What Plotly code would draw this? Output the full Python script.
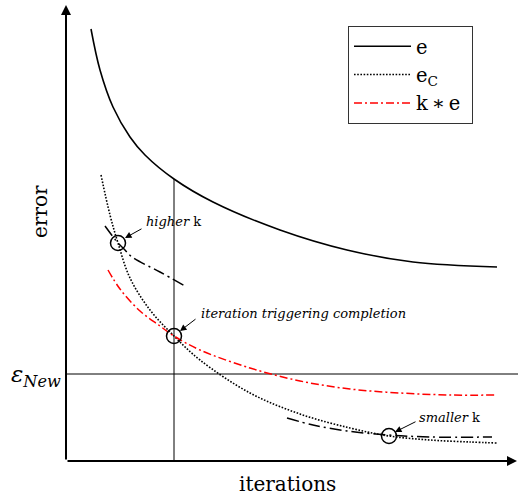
import plotly.graph_objects as go

# ---- data (arbitrary units) ----
e_x = [25, 34, 47, 64, 79, 108, 147, 214, 281, 347, 431]
e_y = [432, 391, 354, 324, 306, 282, 259, 231, 211, 199, 194]

ec_x = [35, 44, 52, 64, 84, 108, 134, 184, 234, 284, 323, 364, 404, 431]
ec_y = [286, 246, 218, 183, 151, 125, 101, 68, 47, 33, 25, 21, 19, 18]

ke_x = [42, 54, 74, 94, 108, 134, 184, 234, 284, 334, 384, 431]
ke_y = [191, 172, 150, 135, 125, 111, 93, 80, 72, 68, 66, 66]

high_x = [39, 52, 58, 66, 94, 119]
high_y = [235, 218, 212, 204, 189, 175]

small_x = [221, 247, 281, 322, 364, 426]
small_y = [43, 36, 30, 26, 24, 24]

circ_x = [52, 108, 323]
circ_y = [218, 125, 25]

trigger_iter = 108
trigger_err = 282
eps_new = 87
x_max = 452
y_max = 456

SERIF = "DejaVu Serif"
NB = "\u00a0"
TH = "\u2009"

fig = go.Figure()

# reference lines
fig.add_trace(go.Scatter(x=[trigger_iter, trigger_iter], y=[0, trigger_err], mode="lines",
                         line=dict(color="black", width=1), showlegend=False, hoverinfo="skip"))
fig.add_trace(go.Scatter(x=[0, x_max], y=[eps_new, eps_new], mode="lines",
                         line=dict(color="black", width=1), showlegend=False, hoverinfo="skip"))

fig.add_trace(go.Scatter(x=e_x, y=e_y, mode="lines", name="e", line_shape="spline",
                         line=dict(color="black", width=1.6)))
fig.add_trace(go.Scatter(x=ec_x, y=ec_y, mode="lines", name="e<sub>C</sub>", line_shape="spline",
                         line=dict(color="black", width=1.6, dash="1.6px,1.6px")))
fig.add_trace(go.Scatter(x=ke_x, y=ke_y, mode="lines", name="k" + TH + "\u2217" + TH + "e" + NB,
                         line_shape="spline",
                         line=dict(color="red", width=1.5, dash="8px,3px,2px,3px")))
fig.add_trace(go.Scatter(x=high_x, y=high_y, mode="lines", line_shape="spline", showlegend=False,
                         line=dict(color="black", width=1.5, dash="12px,4px,2px,4px")))
fig.add_trace(go.Scatter(x=small_x, y=small_y, mode="lines", line_shape="spline", showlegend=False,
                         line=dict(color="black", width=1.5, dash="12px,4px,2px,4px")))
fig.add_trace(go.Scatter(x=circ_x, y=circ_y, mode="markers", showlegend=False,
                         marker=dict(symbol="circle-open", size=15, color="black",
                                     line=dict(width=1.5, color="black"))))

ann = []
# axis arrows
ann.append(dict(x=0, y=1, xref="paper", yref="paper", ax=0, ay=y_max,
                showarrow=True, arrowhead=2, arrowsize=1, arrowwidth=2, arrowcolor="black", text=""))
ann.append(dict(x=1, y=0, xref="paper", yref="paper", ax=-x_max, ay=0,
                showarrow=True, arrowhead=2, arrowsize=1, arrowwidth=2, arrowcolor="black", text=""))
# axis titles
ann.append(dict(x=-26 / 452, y=(461 - 212) / 456, xref="paper", yref="paper", text="error",
                xanchor="center", yanchor="middle",
                showarrow=False, textangle=-90, font=dict(family=SERIF, size=20, color="black")))
ann.append(dict(x=(287 - 66) / 452, y=-23 / 456, xref="paper", yref="paper", text="iterations",
                xanchor="center", yanchor="middle",
                showarrow=False, font=dict(family=SERIF, size=20, color="black")))
ann.append(dict(x=0, y=eps_new, xref="paper", yref="y", xanchor="right", xshift=-3, yshift=-2,
                text="<i>\u03b5<sub>New</sub></i>", showarrow=False,
                font=dict(family=SERIF, size=23, color="black")))
# callouts
for tx, ty, txt, hx, hy, sx, sy in [
    (107, 240, "<i>higher</i> k", 59, 223, 77, 233),
    (237, 148, "<i>iteration triggering completion</i>", 114, 130, 131, 143),
    (383, 44, "<i>smaller</i> k", 329, 29, 351, 40),
]:
    ann.append(dict(x=tx, y=ty, xref="x", yref="y", text=txt, showarrow=False,
                    font=dict(family=SERIF, size=13, color="black")))
    ann.append(dict(x=hx, y=hy, xref="x", yref="y", ax=sx, ay=sy, axref="x", ayref="y",
                    text="", showarrow=True, arrowhead=2, arrowsize=1.3, arrowwidth=1,
                    arrowcolor="black"))

fig.update_layout(
    width=518, height=501,
    margin=dict(l=66, r=0, t=5, b=40),
    plot_bgcolor="white", paper_bgcolor="white",
    xaxis=dict(range=[0, x_max], showgrid=False, zeroline=False, showticklabels=False,
               ticks="", showline=False, fixedrange=True),
    yaxis=dict(range=[0, y_max], showgrid=False, zeroline=False, showticklabels=False,
               ticks="", showline=False, fixedrange=True),
    annotations=ann,
    legend=dict(x=(348 - 66) / 452, y=(461 - 26) / 456, xanchor="left", yanchor="top",
                bordercolor="#333", borderwidth=1, bgcolor="white", tracegroupgap=0,
                font=dict(family=SERIF, size=19.5, color="black"), itemwidth=57),
    showlegend=True,
)

post = ("document.body.style.margin='0';document.body.style.padding='0';"
        "var gd=document.getElementById('{plot_id}');"
        "Plotly.relayout(gd,{width:518,height:501});")
fig.write_html("out.html", post_script=post, config={"displayModeBar": False})
